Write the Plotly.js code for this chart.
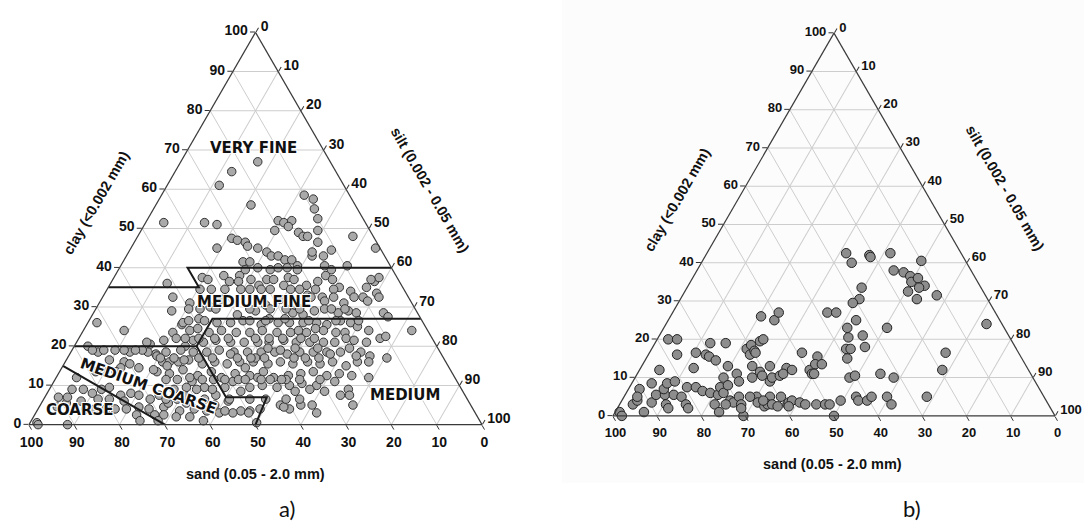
<!DOCTYPE html>
<html>
<head>
<meta charset="utf-8">
<script src="https://cdn.plot.ly/plotly-3.0.1.min.js"></script>
<style>
html,body{margin:0;padding:0;background:#fff;}
#chart{width:1084px;height:525px;}
</style>
</head>
<body>
<div id="chart"></div>
<script>
// ---------- DATA (clay %, silt %) ; sand = 100 - clay - silt ----------
const leftClaySilt = [
[67,17],[64.5,12.5],[61,11.5],[56,21],[51.5,4],[51.5,13],[51,16],[45,19],[47.5,21],[47,22.5],[46.5,24.5],[45.5,25.5],[45,28],[44,30.5],
[58.5,31.5],[57.5,34],[55,35.5],[52.5,37.5],[52,29],[51.5,30.5],[52,32],[50.5,32],[49.5,29.5],[49,35],[48,36.5],[48,37.5],[49.5,39],
[48,47.5],[45,54],[46.5,40.5],[44.5,44.5],[40.5,50],[43,43.5],[43,41],[43,32],[43,33.5],[42,35.5],[42,37],[40.5,39],[41.5,26.5],
[41.5,28],[39.5,28],[40,30.5],[39.5,33.5],[40,35],[40,37],[39.5,39.5],[44,40.5],[40.5,45],[39.5,47],[36.5,45.5],[38,46.5],[37,48.5],
[35,51],[34,54],[35,57],[36.5,58],[37.5,58.5],[33.5,60],[37.5,19.5],[37,21],[38,24],[36.5,26],[38,27.5],[36.5,28],[37,30.5],[35.5,33],
[37,34],[37,35.5],[37.5,38.5],[37,40],[35.5,43.5],[36,12.5],[32.5,15.5],[34.5,20.5],[34.5,31.5],[34.5,34],[35.5,38.5],[34.5,40.5],
[33,45],[32.5,48.5],[34.5,50],[32.5,55.5],[32.5,57.5],[31,20],[31.5,49.5],[32.5,51],[31,54],[31.5,59],[32.5,61],[29,17],[29.5,20.5],
[28,32],[28.5,44],[28,46.5],[29,48.5],[29.5,50.5],[28.5,54],[29,56],[28.5,58],[28.5,64],[27.5,65.5],[27,24],[25.5,21],[26,28.5],
[26,31.5],[26.5,34],[25.5,38.5],[26,42],[26,44.5],[26,47.5],[26,50.5],[25.5,53],[26.5,55.5],[26,58],[25,60],[23.5,20],[24,23.5],
[24.5,25],[23.5,28],[24,30.5],[23.5,34],[23.5,37],[24,39.5],[23.5,43],[23.5,46],[23.5,49.5],[24,53],[23.5,56],[23.5,58],[22,59],
[22,66.5],[22.5,67.5],[21,64],[20.5,16.5],[21.5,19],[22,21.5],[20,24.5],[21.5,25.5],[21,28],[21.5,30.5],[21,34],[21,37],[21,40],
[21,42.5],[21.5,45.5],[21,48.5],[21,51.5],[21,54.5],[21,57],[19.5,61],[18,19],[18.5,21],[19,24],[18.5,27],[18.5,30],[19,32.5],
[18.5,36],[18.5,39],[18.5,42],[18.5,45],[18,48],[18.5,50.5],[18.5,53.5],[18.5,56.5],[18.5,59.5],[18.5,64],[17.5,66.5],[17,70.5],
[16,21.5],[16,25],[16.5,27],[15.5,30.5],[16,33],[15.5,36],[16,38.5],[16,41.5],[15.5,45],[16,47.5],[15.5,50.5],[16,53.5],[15.5,56.5],
[16,59],[15,62.5],[16,64.5],[16,67],[13.5,21.5],[13,24.5],[14,27],[12.5,31],[13.5,33.5],[12,36.5],[13,39],[12.5,42.5],[13.5,45],
[12,48],[12.5,51],[13,53.5],[13.5,56],[12.5,59.5],[13,62],[12.5,65],[12,69],[11,30.5],[9.5,34],[11,39.5],[9.5,44],[10,46.5],[9.5,50],
[10,52.5],[10.5,55],[10,58.5],[11,62],[9,66],[7.5,37.5],[6,41],[3.5,45],[3.5,47],[4,49],[5,53],[4,55.5],[5,57.5],[5,60],[3,62],
[5,69],[7.5,67],[4.5,27.5],[3.5,31.5],[4,34.5],[3.5,37.5],[26,2],[24,9],[20,3],[18.5,6],[19,4.5],[18.5,13],[21,15.5],[18.5,17],
[16,13],[15.5,14.5],[14.5,17],[14,20.5],[16,23],[12,4.5],[9,5],[9,7.5],[8,10],[9,11.5],[9.5,13],[7.5,16.5],[8,18.5],[7.5,20.5],
[6.5,14.5],[6,18],[7,3],[5.5,5.5],[6,8.5],[6.5,12],[0.5,1.5],[0,8.5],[4.5,22],[4,24.5],[2.5,26.5],[2.5,28.5],[1,28],[2.5,22.5],
[11.5,27],[9.5,30],[9,32.5],[6.5,29.5],[5.5,32],[2,31.5],[2,34.5],[1,38],[9,27.5],[11.5,32.5],[12,29.5],[16.5,9.5],[14.5,13],[7,5],
[4.5,4],[0,2],[26,21],[24,72.5],[37,57],[17.5,63.5],[4.5,54],[0.5,50],[3,40.5],[3,43.5],[3,47],[1,24],[19,15.5],[17.5,19.5],[15,23],
[16.5,26],[7.5,25],[6.5,23.5],[5.5,28],[7.5,30.5],[5,38.5],[3.5,41.5],[6.5,35.5],[9,36],[9.5,38.5],[8.5,42.5],[11.5,40.5],[14.5,40.5],
[12,44.5],[11.5,47.5],[11.5,51],[8.5,54.5],[9,57.5],[8.5,61],[7.5,65],[18,35.5],[17,41.5],[19.5,43],[19,46],[19.5,49],[17,52.5],
[19.5,54],[18,57.5],[24,47.5],[24.5,51],[27,39.5],[27,43],[29,35.5],[30.5,37],[32,39.5],[30.5,43.5],[32.5,46],[30,25],[32,26.5],
[26.5,59.5],[24,63],[21.5,61],
[22,23.5],[22,26.5],[22,30],[22,33],[22,39],[22,42],[22,45],[22,49],[22,52],
[17,20.5],[17,23.5],[17,29],[17,32],[17,37.5],[17,40.5],[17,43.5],[17,50],[17,55.5],
[11.5,24.5],[11.5,35],[11.5,37.5],[11.5,42],[11.5,45.5],[11.5,50],[11.5,54],[11.5,58.5],
[26.5,22],[26.5,25.5],[26.5,35.5],[26.5,39],[26.5,48.5],[26.5,54.5],
[6.5,27],[6.5,41],[6.5,45.5],[6.5,49],[6.5,53.5],[6.5,56.5],
[34.5,23],[34.5,26],[34.5,29.5],[34.5,36],[34.5,42.5],[34.5,46],
[29.5,23],[29.5,26.5],[29.5,34],[29.5,38.5],[29.5,42],[29.5,45],[29.5,52],[29.5,55],
[19,7],[19,9.5],[19,11.5],[19,14],[13.5,8],[13.5,10],[13.5,12.5],
[4,10.5],[4,12.5],[4,15],[4,17],[4,19.5]
];

const rightClaySilt = [
[1,1],[0,2],[3,3],[4,3.5],[7,2.5],[5,3],[1,6.5],[3.5,7],[8.5,4.5],[5.5,7],[12,4.5],[5.5,9],[7,8],[3,10.5],[2,11.5],[8.5,8],[20,2.5],
[20,4.5],[16,6.5],[9,9.5],[5.5,11],[5,13],[3,15],[2,16],[7.5,13],[16.5,10.5],[12.5,12],[7.5,15],[6.5,17],[19,12.5],[16,13],[15.5,14],
[14.5,16],[6,19],[5.5,21],[3,21.5],[1,23.5],[19,16],[13,19.5],[10,20],[7.5,20.5],[6,22],[8,22],[4,24.5],[3.5,25.5],[11,22.5],[9,24],
[5,26],[0,29.5],[3,27.5],[17.5,21.5],[16,23],[18.5,22],[17,23.5],[16.5,24],[19.5,23.5],[20,24],[13,25],[10,26.5],[11.5,27.5],[26,20.5],
[25,24],[27,24],[13,29],[10.5,28.5],[9,31],[10,31],[10.5,32.5],[5,33],[5,30],[5,28.5],[3.5,31],[2.5,33],[3,33.5],[3,34.5],[5,35.5],
[3,38],[3.5,38],[4,38.5],[3.5,40.5],[3,42],[16.5,34.5],[12.5,33],[11,33],[12,34.5],[12,38.5],[11,39.5],[15.5,38.5],[13.5,39],[13.5,40.5],
[27,35],[27,37],[3,44.5],[3,46.5],[3,47.5],[0,50],[4,32],[2.5,36],[2.5,38.5],[3,24],[2,28],[42.5,31.5],[42,37],[41.5,37.5],[42.5,41.5],
[40,34],[40.5,49.5],[38,44.5],[37.5,47],[36.5,49],[35,50],[36,51],[34,53.5],[33.5,52.5],[32.5,50.5],[30.5,53.5],[31.5,57.5],[33.5,39.5],
[30.5,40.5],[29.5,39.5],[25,42.5],[23,41.5],[23,50.5],[21,46],[20.5,43],[18,48],[17.5,44],[17.5,45],[15,45.5],[11,40],[10,48.5],
[10.5,49.5],[11,55],[10,58.5],[16.5,67],[12,68.5],[24,72.5],[5,68.5],[5,52.5],[4,53.5],[4,55.5],[5,56],[5,59.5],[3,61.5],[4,49.5]
];

// texture-class boundary lines in the left diagram (clay %, silt %)
const boundaryCoarse       = [[15,0],[0,30]];
const boundaryMedCoarseTop = [[20,0],[20,27],[27,27],[27,73]];
const boundaryMedCoarseBot = [[20,27],[7,40],[7,49],[0,50]];
const boundaryVeryFine     = [[35,0],[35,20],[40,15],[40,60]];

const regionLabels = ['VERY FINE','MEDIUM FINE','MEDIUM COARSE','COARSE','MEDIUM'];
const clayTitle = 'clay (<0.002 mm)';
const siltTitle = 'silt (0.002 - 0.05 mm)';
const sandTitle = 'sand (0.05 - 2.0 mm)';
const panelLabels = ['a)','b)'];

// ---------- helpers ----------
const W = 1084, H = 525;
function px(x){return x/W;}
function py(y){return 1 - y/H;}
function split(pairs){
  return {a: pairs.map(p=>p[0]), c: pairs.map(p=>p[1]), b: pairs.map(p=>100-p[0]-p[1])};
}
function axis(size){
  return {
    min:0, tick0:0, dtick:10, ticks:'outside', ticklen:5, tickwidth:1, tickcolor:'#333',
    showline:true, linecolor:'#3a3a3a', linewidth:1.2,
    showgrid:true, gridcolor:'#cdcdcd', gridwidth:1,
    tickfont:{family:'Liberation Sans, Arial, sans-serif', size:size, color:'#111', weight:'bold'},
    title:{text:''}
  };
}

const L = split(leftClaySilt), R = split(rightClaySilt);

const traces = [
  {type:'scatterternary', subplot:'ternary', mode:'markers', a:L.a, b:L.b, c:L.c,
   marker:{size:8.5, color:'#a9a9a9', line:{color:'#333', width:1}}, hoverinfo:'skip', showlegend:false, cliponaxis:false},
  {type:'scatterternary', subplot:'ternary2', mode:'markers', a:R.a, b:R.b, c:R.c,
   marker:{size:9.5, color:'#8d8d8d', line:{color:'#222', width:1}}, hoverinfo:'skip', showlegend:false, cliponaxis:false}
];
[boundaryCoarse, boundaryMedCoarseTop, boundaryMedCoarseBot, boundaryVeryFine].forEach(bd=>{
  const s = split(bd);
  traces.push({type:'scatterternary', subplot:'ternary', mode:'lines', a:s.a, b:s.b, c:s.c,
    line:{color:'#1a1a1a', width:2}, hoverinfo:'skip', showlegend:false, cliponaxis:false});
});

const titleFont = {family:'Liberation Sans, Arial, sans-serif', size:14.5, color:'#111', weight:'bold'};
const regionFont = {family:'DejaVu Sans, sans-serif', size:15, color:'#111', weight:'bold',
  shadow:'1px 1px 0 #fff, -1px -1px 0 #fff, 1px -1px 0 #fff, -1px 1px 0 #fff'};
const panelFont = {family:'Lato, Open Sans, sans-serif', size:22, color:'#111'};

function ann(text, x, y, font, angle){
  return {text:text, xref:'paper', yref:'paper', x:px(x), y:py(y), xanchor:'center', yanchor:'middle',
          showarrow:false, font:font, textangle:angle||0};
}

const annotations = [
  ann(clayTitle, 96, 203, titleFont, -60),
  ann(siltTitle, 430, 190, titleFont, 60),
  ann(sandTitle, 255, 474, titleFont),
  ann(panelLabels[0], 287, 508, panelFont),
  ann(regionLabels[0], 253, 148, regionFont),
  ann(regionLabels[1], 254, 302, regionFont),
  ann(regionLabels[2], 148, 386, regionFont, 19),
  ann(regionLabels[3], 80, 410, regionFont),
  ann(regionLabels[4], 405, 395, regionFont),
  ann(clayTitle, 677, 200, titleFont, -60),
  ann(siltTitle, 1005, 188, titleFont, 60),
  ann(sandTitle, 832, 464, titleFont),
  ann(panelLabels[1], 912, 508, panelFont)
];

const layout = {
  width:W, height:H, margin:{l:0,r:0,t:0,b:0},
  paper_bgcolor:'#fff', showlegend:false,
  ternary:{sum:100, bgcolor:'rgba(0,0,0,0)',
    domain:{x:[px(29),px(482)], y:[py(425),py(32)]},
    aaxis:axis(14), baxis:axis(14), caxis:axis(14)},
  ternary2:{sum:100, bgcolor:'rgba(0,0,0,0)',
    domain:{x:[px(613),px(1055)], y:[py(417),py(32)]},
    aaxis:axis(13), baxis:axis(13), caxis:axis(13)},
  shapes:[{type:'rect', xref:'paper', yref:'paper', x0:px(562), x1:1, y0:py(483), y1:1,
           fillcolor:'#fcfcfc', line:{width:0}, layer:'below'}],
  annotations:annotations
};

Plotly.newPlot('chart', traces, layout, {displayModeBar:false, staticPlot:true});
</script>
</body>
</html>
